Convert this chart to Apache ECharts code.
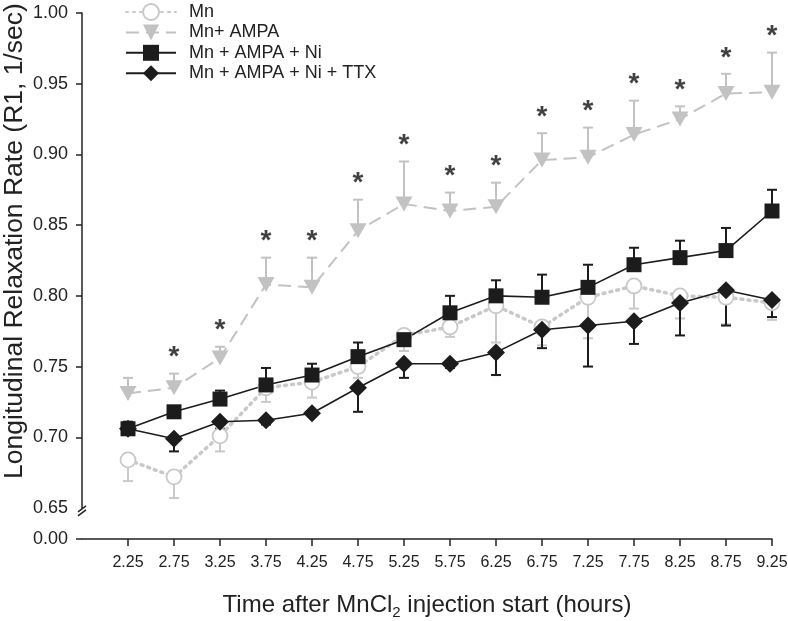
<!DOCTYPE html>
<html><head><meta charset="utf-8">
<script src="https://cdn.jsdelivr.net/npm/echarts@6/dist/echarts.min.js"></script>
<style>html,body{margin:0;padding:0;background:#fff}#c{width:788px;height:621px}</style>
</head><body><div id="c"></div>
<script>
const times = [2.25, 2.75, 3.25, 3.75, 4.25, 4.75, 5.25, 5.75, 6.25, 6.75, 7.25, 7.75, 8.25, 8.75, 9.25];
const yTicks = [0.00, 0.65, 0.70, 0.75, 0.80, 0.85, 0.90, 0.95, 1.00];
const seriesNames = ['Mn', 'Mn+ AMPA', 'Mn + AMPA + Ni', 'Mn + AMPA + Ni + TTX'];

const mn      = [0.684, 0.672, 0.701, 0.735, 0.739, 0.750, 0.772, 0.778, 0.793, 0.778, 0.799, 0.807, 0.800, 0.799, 0.795];
const mnErrLo = [0.669, 0.657, 0.690, 0.725, 0.728, 0.742, 0.761, 0.771, 0.767, 0.765, 0.770, 0.791, 0.784, 0.780, 0.783];

const ampa      = [0.731, 0.735, 0.756, 0.808, 0.806, 0.846, 0.865, 0.860, 0.863, 0.896, 0.898, 0.914, 0.925, 0.943, 0.944];
const ampaErrHi = [0.742, 0.745, 0.764, 0.827, 0.827, 0.868, 0.895, 0.873, 0.880, 0.915, 0.919, 0.938, 0.934, 0.957, 0.972];

const ni      = [0.706, 0.718, 0.727, 0.737, 0.744, 0.757, 0.769, 0.788, 0.800, 0.799, 0.806, 0.822, 0.827, 0.832, 0.860];
const niErrHi = [0.711, 0.719, 0.733, 0.749, 0.752, 0.767, 0.773, 0.800, 0.811, 0.815, 0.822, 0.834, 0.839, 0.848, 0.875];

const ttx      = [0.706, 0.699, 0.711, 0.712, 0.717, 0.735, 0.752, 0.752, 0.760, 0.776, 0.779, 0.782, 0.795, 0.804, 0.797];
const ttxErrLo = [0.702, 0.690, 0.706, 0.709, 0.715, 0.718, 0.742, 0.749, 0.744, 0.763, 0.750, 0.766, 0.772, 0.779, 0.785];

// significance markers (index of time points with *)
const starIdx = [1, 2, 3, 4, 5, 6, 7, 8, 9, 10, 11, 12, 13, 14];

const GRAY1 = '#c9c9c9', GRAY2 = '#c2c2c2', BLACK = '#1c1c1c', AXIS = '#222';
const FONT = 'Liberation Sans, Arial, sans-serif';

function pts(vals) { return times.map((t, i) => [t, vals[i]]); }
function errData(vals, ends) { return times.map((t, i) => [t, vals[i], ends[i]]); }
function errSeries(vals, ends, color, width) {
  return {
    type: 'custom', silent: true,
    data: errData(vals, ends),
    renderItem: function (params, api) {
      const p0 = api.coord([api.value(0), api.value(1)]);
      const p1 = api.coord([api.value(0), api.value(2)]);
      const hw = 5;
      return { type: 'group', children: [
        { type: 'line', shape: { x1: p0[0], y1: p0[1], x2: p1[0], y2: p1[1] }, style: { stroke: color, lineWidth: width } },
        { type: 'line', shape: { x1: p1[0] - hw, y1: p1[1], x2: p1[0] + hw, y2: p1[1] }, style: { stroke: color, lineWidth: width } }
      ]};
    }
  };
}

const chart = echarts.init(document.getElementById('c'), null, { renderer: 'canvas' });
chart.setOption({
  animation: false,
  backgroundColor: '#fff',
  textStyle: { fontFamily: FONT },
  grid: { left: 82, right: 16, top: 13, bottom: 82, containLabel: false, outerBoundsMode: 'none' },
  legend: {
    orient: 'vertical', left: 125, top: 3, padding: 0, itemWidth: 50, itemHeight: 20, itemGap: 2.4,
    data: seriesNames,
    textStyle: { fontFamily: FONT, fontSize: 18, color: '#222', padding: [0, 0, 0, 8] }
  },
  xAxis: {
    type: 'value', min: 1.75, max: 9.25, interval: 0.5,
    name: '{a|Time after MnCl}{s|2}{a| injection start (hours)}',
    nameLocation: 'middle', nameGap: 52, nameMoveOverlap: false,
    nameTextStyle: { rich: {
      a: { fontFamily: FONT, fontSize: 24, color: '#222' },
      s: { fontFamily: FONT, fontSize: 15, color: '#222', padding: [14, 0, 0, 0] }
    }},
    axisLine: { lineStyle: { color: AXIS, width: 1.5 } },
    axisTick: { show: true, length: 7, lineStyle: { color: AXIS, width: 1.5 }, customValues: times },
    axisLabel: { fontSize: 16, color: '#222', margin: 16, customValues: times, formatter: v => v.toFixed(2) },
    splitLine: { show: false }
  },
  yAxis: {
    type: 'value', min: 0, max: 1, interval: 0.05,
    breaks: [{ start: 0, end: 0.65, gap: '5.9%' }],
    breakArea: { show: true, itemStyle: { color: 'rgba(0,0,0,0)', borderColor: 'rgba(0,0,0,0)', borderWidth: 0 }, zigzagAmplitude: 0 },
    name: 'Longitudinal Relaxation Rate (R1, 1/sec)',
    nameLocation: 'middle', nameGap: 54, nameMoveOverlap: false,
    nameTextStyle: { fontFamily: FONT, fontSize: 26.5, color: '#222', padding: [0, 0, 0, 70] },
    axisLine: { show: true, lineStyle: { color: AXIS, width: 1.5 } },
    axisTick: { show: true, length: 6, lineStyle: { color: AXIS, width: 1.5 }, customValues: yTicks.filter(v => v !== 0.65) },
    axisLabel: { fontSize: 18, color: '#222', margin: 14, formatter: v => v.toFixed(2) },
    splitLine: { show: false }
  },
  series: [
    errSeries(mn, mnErrLo, GRAY1, 2),
    { name: seriesNames[0], type: 'line', data: pts(mn), symbol: 'circle', symbolSize: 15,
      lineStyle: { color: GRAY1, width: 3.5, type: [2, 5], cap: 'round' },
      itemStyle: { color: '#fff', borderColor: GRAY1, borderWidth: 1.8 } },
    errSeries(ampa, ampaErrHi, GRAY2, 2),
    { name: seriesNames[1], type: 'line', data: pts(ampa), symbol: 'triangle', symbolSize: [17, 15], symbolRotate: 180,
      lineStyle: { color: GRAY2, width: 2, type: [13, 7] },
      itemStyle: { color: GRAY2 } },
    errSeries(ni, niErrHi, BLACK, 2),
    { name: seriesNames[2], type: 'line', data: pts(ni), symbol: 'rect', symbolSize: 15,
      lineStyle: { color: BLACK, width: 1.6 }, itemStyle: { color: BLACK } },
    errSeries(ttx, ttxErrLo, BLACK, 2),
    { name: seriesNames[3], type: 'line', data: pts(ttx), symbol: 'diamond', symbolSize: 18,
      lineStyle: { color: BLACK, width: 1.6 }, itemStyle: { color: BLACK } },
    { type: 'scatter', silent: true, symbolSize: 0,
      data: starIdx.map(i => [times[i], ampaErrHi[i]]),
      label: { show: true, position: 'top', distance: 2, formatter: '*', fontFamily: FONT, fontSize: 28, fontWeight: 'bold', color: '#111' } }
  ]
});

// axis-break mark "//" on the y axis line at the break edge
const bp = chart.convertToPixel({ xAxisIndex: 0, yAxisIndex: 0 }, [1.75, 0.65]);
const bx = bp[0], by = bp[1] + 3;
chart.setOption({ graphic: [{ type: 'group', z: 200, children: [
  { type: 'rect', shape: { x: bx - 4, y: by - 2, width: 8, height: 4 }, style: { fill: '#fff' } },
  { type: 'line', shape: { x1: bx - 4, y1: by + 1, x2: bx + 4, y2: by - 5 }, style: { stroke: AXIS, lineWidth: 1.5 } },
  { type: 'line', shape: { x1: bx - 4, y1: by + 5, x2: bx + 4, y2: by - 1 }, style: { stroke: AXIS, lineWidth: 1.5 } }
]}]});
</script></body></html>
